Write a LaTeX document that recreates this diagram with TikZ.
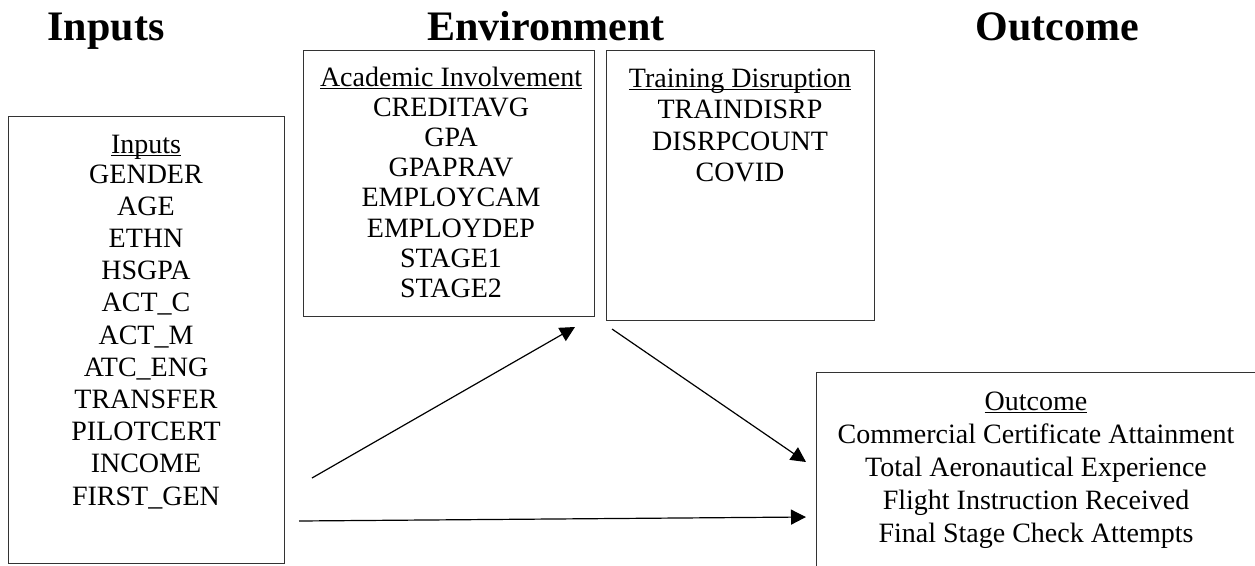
\documentclass[tikz,border=0pt]{standalone}
\usepackage{fontspec}
\setmainfont{Liberation Serif}
\usetikzlibrary{arrows.meta}
\newcommand\myul[1]{{\setbox0\hbox{#1}\rlap{\rule[-3pt]{\wd0}{1.4pt}}\box0}}
\begin{document}
\begin{tikzpicture}[x=1pt,y=-1pt,
  box/.style={draw=black!80,line width=1.4pt,inner sep=0pt,anchor=north west},
  lbl/.style={inner sep=0pt,anchor=base,font=\fontsize{28}{32}\selectfont},
  head/.style={inner sep=0pt,anchor=base,font=\fontsize{42}{48}\selectfont\bfseries},
  arr/.style={line width=1.2pt,-{Triangle[length=15pt,width=15pt]}}]
\useasboundingbox (0,0) rectangle (1255,565);
\clip (0,0) rectangle (1255,565);
% headings
\node[head] (hin) at (106,40) {Inputs};
\node[head] (henv) at (546,40) {Environment};
\node[head] (hout) at (1057,40) {Outcome};
% boxes
\node[box,minimum width=276pt,minimum height=447pt] (inbox) at (8,116) {};
\node[box,minimum width=291pt,minimum height=266pt] (acbox) at (303,50) {};
\node[box,minimum width=268pt,minimum height=270pt] (trbox) at (606,50) {};
\node[box,minimum width=460pt,minimum height=230pt] (outbox) at (816,372) {};
% inputs text
\node[lbl] (in0) at (146,153) {\myul{Inputs}};
\foreach \t [count=\i] in {GENDER,AGE,ETHN,HSGPA,ACT\_C,ACT\_M,ATC\_ENG,TRANSFER,PILOTCERT,INCOME,FIRST\_GEN}
  \node[lbl] (in\i) at (146,{183+32.2*(\i-1)}) {\t};
% academic text
\node[lbl] (ac0) at (451,86) {\myul{Academic Involvement}};
\foreach \t [count=\i] in {CREDITAVG,GPA,GPAPRAV,EMPLOYCAM,EMPLOYDEP,STAGE1,STAGE2}
  \node[lbl] (ac\i) at (451,{86+30.2*\i}) {\t};
% training text
\node[lbl] (tr0) at (740,87) {\myul{Training Disruption}};
\foreach \t [count=\i] in {TRAINDISRP,DISRPCOUNT,COVID}
  \node[lbl] (tr\i) at (740,{87+31.5*\i}) {\t};
% outcome text
\node[lbl] (out0) at (1036,410) {\myul{Outcome}};
\foreach \t [count=\i] in {Commercial Certificate Attainment,Total Aeronautical Experience,Flight Instruction Received,Final Stage Check Attempts}
  \node[lbl] (out\i) at (1036,{410+33*\i}) {\t};
% arrows
\coordinate (a1s) at (312,478);
\coordinate (a1e) at (575,327);
\coordinate (a2s) at (612,329);
\coordinate (a2e) at (806,462);
\coordinate (a3s) at (299,521);
\coordinate (a3e) at (806,517);
\draw[arr] (a1s) -- (a1e);
\draw[arr] (a2s) -- (a2e);
\draw[arr] (a3s) -- (a3e);
\end{tikzpicture}
\end{document}
